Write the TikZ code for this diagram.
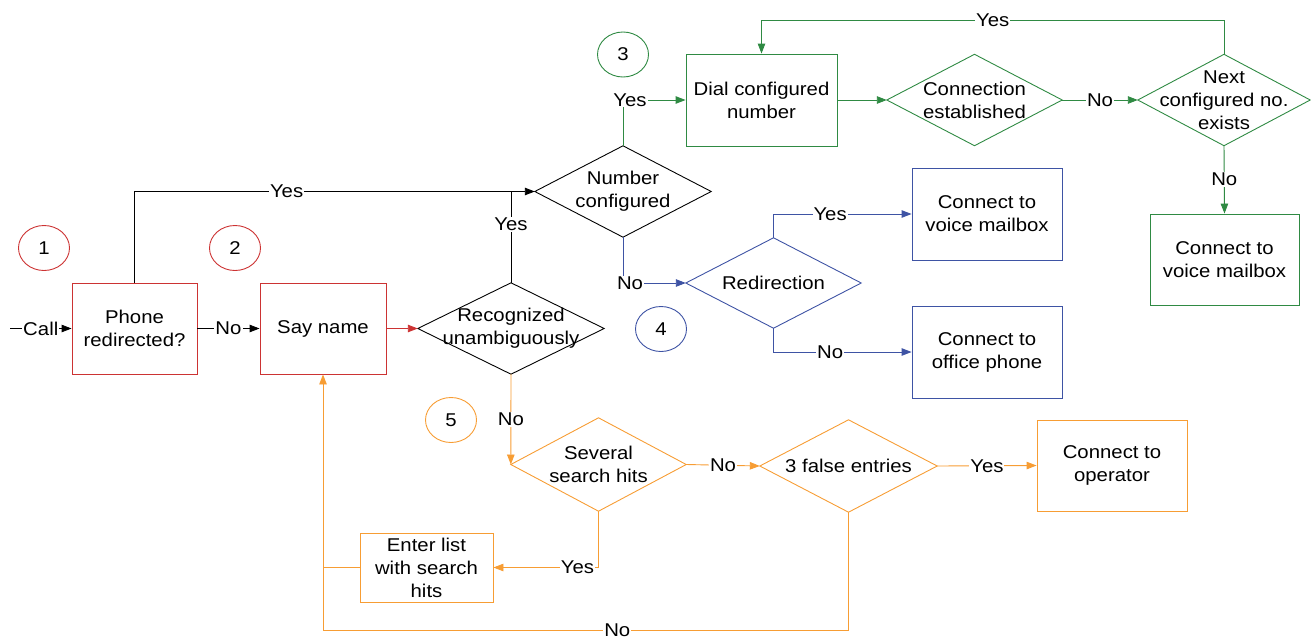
\documentclass[tikz,border=0pt]{standalone}
\usepackage{fontspec}
\setmainfont{Liberation Sans}[FakeStretch=1.1]
\usetikzlibrary{arrows.meta,shapes.geometric,calc}
\definecolor{cred}{RGB}{204,51,51}
\definecolor{cgreen}{RGB}{47,138,67}
\definecolor{cblue}{RGB}{62,83,164}
\definecolor{corange}{RGB}{247,157,52}
\begin{document}
\begin{tikzpicture}[x=1pt,y=-1pt,
  font=\fontsize{18.5}{23}\selectfont,
  box/.style={rectangle, draw, line width=0.9pt, inner sep=0pt, align=center},
  dia/.style={rectangle, inner sep=0pt, align=center},
  numcirc/.style={ellipse, draw, line width=0.9pt, minimum width=51, minimum height=45, inner sep=0pt},
  conn/.style={line width=0.9pt},
  arr/.style={conn, -{Triangle[length=10pt,width=7.5pt]}},
  lbl/.style={fill=white, inner sep=1pt, text=black}
]
\useasboundingbox (0,0) rectangle (1311,640);

% step markers
\node[numcirc, draw=cred] (c1) at (44,248) {1};
\node[numcirc, draw=cred] (c2) at (235,248) {2};
\node[numcirc, draw=cgreen] (c3) at (623,54.5) {3};
\node[numcirc, draw=cblue] (c4) at (661,329) {4};
\node[numcirc, draw=corange] (c5) at (451,420) {5};

% boxes
\node[box, draw=cred, minimum width=125, minimum height=91] (phone) at (134.5,328.5) {Phone\\redirected?};
\node[box, draw=cred, minimum width=126, minimum height=91] (say) at (323,328.5) {Say name};
\node[box, draw=cgreen, minimum width=151, minimum height=92] (dial) at (761.5,100) {Dial configured\\number};
\node[box, draw=cgreen, minimum width=149, minimum height=91] (vm2) at (1224.5,259.5) {Connect to\\voice mailbox};
\node[box, draw=cblue, minimum width=150, minimum height=92] (vm1) at (987,214) {Connect to\\voice mailbox};
\node[box, draw=cblue, minimum width=150, minimum height=92] (office) at (987,352) {Connect to\\office phone};
\node[box, draw=corange, minimum width=150, minimum height=91] (op) at (1112,465.5) {Connect to\\operator};
\node[box, draw=corange, minimum width=133, minimum height=69] (enter) at (426.5,567.5) {Enter list\\with search\\hits};

% decisions
\node[dia, minimum width=186, minimum height=91] (rec) at (511,328.5) {Recognized\\unambiguously};
\node[dia, minimum width=176, minimum height=91] (numc) at (623,191.5) {Number\\configured};
\node[dia, minimum width=175, minimum height=91] (conn) at (974.5,100) {Connection\\established};
\node[dia, minimum width=172, minimum height=91] (next) at (1224,100) {Next\\configured no.\\exists};
\node[dia, minimum width=175, minimum height=90] (redir) at (773.5,283) {Redirection};
\node[dia, minimum width=175, minimum height=93] (sev) at (598.5,464.5) {Several\\search hits};
\node[dia, minimum width=177, minimum height=92] (false) at (848.5,466) {3 false entries};

\foreach \n/\c in {rec/black, numc/black, conn/cgreen, next/cgreen, redir/cblue, sev/corange, false/corange}
  \draw[conn, \c] (\n.west) -- (\n.north) -- (\n.east) -- (\n.south) -- cycle;

% helper coordinates
\coordinate (callstart) at (10,328.5);
\coordinate (ytop) at (761.5,20);
\coordinate (bl) at (323,630);

% black / red flow
\draw[arr] (callstart) -- node[lbl]{Call} (phone.west);
\draw[arr] (phone.east) -- node[lbl]{No} (say.west);
\draw[arr] (phone.north) |- node[lbl,pos=0.69]{Yes} (numc.west);
\draw[conn] (rec.north) -- node[lbl,pos=0.64]{Yes} (rec.north |- numc.west);
\draw[arr, cred] (say.east) -- (rec.west);

% green flow
\draw[arr, cgreen] (numc.north) |- node[lbl,xshift=7pt]{Yes} (dial.west);
\draw[arr, cgreen] (dial.east) -- (conn.west);
\draw[arr, cgreen] (conn.east) -- node[lbl]{No} (next.west);
\draw[arr, cgreen] (next.north) |- node[lbl,pos=0.75]{Yes} (ytop) -- (dial.north);
\draw[arr, cgreen] (next.south) -- node[lbl]{No} (vm2.north);

% blue flow
\draw[arr, cblue] (numc.south) |- node[lbl,xshift=7pt]{No} (redir.west);
\draw[arr, cblue] (redir.north) |- node[lbl,pos=0.705]{Yes} (vm1.west);
\draw[arr, cblue] (redir.south) |- node[lbl,pos=0.705]{No} (office.west);

% orange flow
\draw[arr, corange] (rec.south) -- node[lbl]{No} (sev.west);
\draw[arr, corange] (sev.east) -- node[lbl]{No} (false.west);
\draw[arr, corange] (false.east) -- node[lbl]{Yes} (op.west);
\draw[arr, corange] (sev.south) |- node[lbl,pos=0.6]{Yes} (enter.east);
\draw[arr, corange] (enter.west) -| (say.south);
\draw[conn, corange] (false.south) |- node[lbl,pos=0.72]{No} (bl) -- (say.south |- enter.west);
\end{tikzpicture}
\end{document}
